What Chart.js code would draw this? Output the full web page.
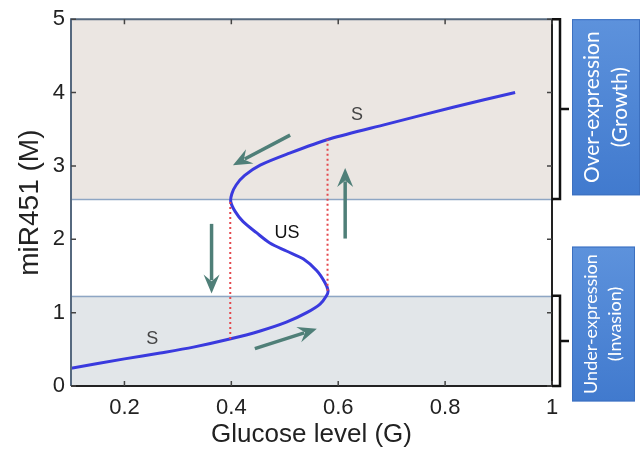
<!DOCTYPE html>
<html>
<head>
<meta charset="utf-8">
<script src="https://cdn.jsdelivr.net/npm/chart.js@4"></script>
<style>
  html, body { margin: 0; padding: 0; background: #fff; }
  #wrap { width: 642px; height: 459px; position: relative; }
</style>
</head>
<body>
<div id="wrap"><canvas id="bistable"></canvas></div>
<script>
// S-shaped steady-state curve (glucose, miR451)
const curveX = [0.10, 0.20, 0.267, 0.329, 0.397, 0.454, 0.503, 0.541, 0.566, 0.578, 0.581, 0.575, 0.560, 0.535, 0.503, 0.472, 0.447, 0.422, 0.407, 0.399, 0.401, 0.409, 0.425, 0.454, 0.504, 0.585, 0.691, 0.815, 0.931];
const curveY = [0.24, 0.37, 0.45, 0.53, 0.64, 0.75, 0.87, 1.00, 1.117, 1.23, 1.30, 1.41, 1.57, 1.73, 1.84, 1.95, 2.09, 2.24, 2.38, 2.51, 2.62, 2.74, 2.87, 3.01, 3.16, 3.37, 3.57, 3.80, 4.00];

// dotted red thresholds
const lowDropX = [0.398, 0.398];
const lowDropY = [0.64, 2.51];
const highDropX = [0.58, 0.58];
const highDropY = [1.30, 3.36];

// shaded expression bands
const bandLow = [0, 1.23];
const bandHigh = [2.55, 5];

// arrows: tail -> head
const arrowFrom = [[0.51, 3.42], [0.613, 2.01], [0.363, 2.21], [0.444, 0.51]];
const arrowTo = [[0.403, 3.01], [0.613, 2.97], [0.363, 1.26], [0.56, 0.78]];

// stability labels
const labelText = ["S", "US", "S"];
const labelX = [0.252, 0.504, 0.635];
const labelY = [0.64, 2.08, 3.70];

const xTicks = [0.2, 0.4, 0.6, 0.8, 1];
const yTicks = [0, 1, 2, 3, 4, 5];

const toPts = (xs, ys) => xs.map((x, i) => ({ x: x, y: ys[i] }));

const decorations = {
  id: "decorations",
  beforeDatasetsDraw(chart) {
    const { ctx, chartArea: a, scales: { x, y } } = chart;
    ctx.save();
    // bands
    ctx.fillStyle = "#ebe6e2";
    ctx.fillRect(a.left, y.getPixelForValue(bandHigh[1]), a.right - a.left,
      y.getPixelForValue(bandHigh[0]) - y.getPixelForValue(bandHigh[1]));
    ctx.fillStyle = "#e2e6e9";
    ctx.fillRect(a.left, y.getPixelForValue(bandLow[1]), a.right - a.left,
      y.getPixelForValue(bandLow[0]) - y.getPixelForValue(bandLow[1]));
    ctx.strokeStyle = "#8ea6c4";
    ctx.lineWidth = 1.5;
    [bandHigh[0], bandLow[1]].forEach(v => {
      const py = Math.round(y.getPixelForValue(v)) + 0.5;
      ctx.beginPath();
      ctx.moveTo(a.left, py);
      ctx.lineTo(a.right + 2, py);
      ctx.stroke();
    });
    ctx.restore();
  },
  afterDatasetsDraw(chart) {
    const { ctx, chartArea: a, scales: { x, y } } = chart;
    ctx.save();

    // arrows
    ctx.strokeStyle = "#4f7f78";
    ctx.fillStyle = "#4f7f78";
    ctx.lineWidth = 3.5;
    arrowFrom.forEach((f, i) => {
      const x0 = x.getPixelForValue(f[0]), y0 = y.getPixelForValue(f[1]);
      const x1 = x.getPixelForValue(arrowTo[i][0]), y1 = y.getPixelForValue(arrowTo[i][1]);
      const c = Math.cos(Math.atan2(y1 - y0, x1 - x0)), s = Math.sin(Math.atan2(y1 - y0, x1 - x0));
      const hl = 19, hw = 8;
      ctx.beginPath();
      ctx.moveTo(x0, y0);
      ctx.lineTo(x1 - hl * 0.7 * c, y1 - hl * 0.7 * s);
      ctx.stroke();
      ctx.beginPath();
      ctx.moveTo(x1, y1);
      ctx.lineTo(x1 - hl * c + hw * s, y1 - hl * s - hw * c);
      ctx.lineTo(x1 - hl * 0.65 * c, y1 - hl * 0.65 * s);
      ctx.lineTo(x1 - hl * c - hw * s, y1 - hl * s + hw * c);
      ctx.closePath();
      ctx.fill();
    });

    // labels
    ctx.font = "18px 'Liberation Sans', Arial, sans-serif";
    ctx.textAlign = "center";
    ctx.textBaseline = "middle";
    labelText.forEach((t, i) => {
      ctx.fillStyle = t === "US" ? "#111" : "#444";
      ctx.fillText(t, x.getPixelForValue(labelX[i]), y.getPixelForValue(labelY[i]));
    });

    // axes box
    ctx.lineWidth = 2;
    ctx.strokeStyle = "#56697f";
    ctx.beginPath();
    ctx.moveTo(a.left, a.bottom);
    ctx.lineTo(a.left, a.top);
    ctx.lineTo(a.right, a.top);
    ctx.stroke();
    ctx.strokeStyle = "#222";
    ctx.beginPath();
    ctx.moveTo(a.left, a.bottom);
    ctx.lineTo(a.right, a.bottom);
    ctx.lineTo(a.right, a.top);
    ctx.stroke();

    // inward ticks
    ctx.lineWidth = 1.5;
    ctx.strokeStyle = "#444";
    xTicks.forEach(v => {
      const px = x.getPixelForValue(v);
      ctx.beginPath();
      ctx.moveTo(px, a.bottom); ctx.lineTo(px, a.bottom - 5);
      ctx.moveTo(px, a.top); ctx.lineTo(px, a.top + 5);
      ctx.stroke();
    });
    yTicks.forEach(v => {
      const py = y.getPixelForValue(v);
      ctx.beginPath();
      ctx.moveTo(a.left, py); ctx.lineTo(a.left + 5, py);
      ctx.moveTo(a.right, py); ctx.lineTo(a.right - 5, py);
      ctx.stroke();
    });

    // brackets
    ctx.strokeStyle = "#111";
    ctx.lineWidth = 2.5;
    const bx = a.right + 8;
    [bandHigh, bandLow].forEach(b => {
      const t = y.getPixelForValue(b[1]), bt = y.getPixelForValue(b[0]);
      ctx.beginPath();
      ctx.moveTo(a.right, t); ctx.lineTo(bx, t); ctx.lineTo(bx, bt); ctx.lineTo(a.right, bt);
      ctx.moveTo(bx, (t + bt) / 2); ctx.lineTo(bx + 9, (t + bt) / 2);
      ctx.stroke();
    });

    // blue label boxes
    const boxes = [
      { top: y.getPixelForValue(5), bottom: y.getPixelForValue(2.6), x0: a.right + 20, x1: 640,
        lines: ["Over-expression", "(Growth)"], size: 21 },
      { top: y.getPixelForValue(1.9), bottom: y.getPixelForValue(-0.21), x0: a.right + 20, x1: 635,
        lines: ["Under-expression", "(Invasion)"], size: 18 }
    ];
    boxes.forEach(b => {
      const g = ctx.createLinearGradient(0, b.top, 0, b.bottom);
      g.addColorStop(0, "#5d92dc");
      g.addColorStop(1, "#417ace");
      ctx.fillStyle = g;
      ctx.fillRect(b.x0, b.top, b.x1 - b.x0, b.bottom - b.top);
      ctx.strokeStyle = "#3c70c0";
      ctx.lineWidth = 1;
      ctx.strokeRect(b.x0 + 0.5, b.top + 0.5, b.x1 - b.x0 - 1, b.bottom - b.top - 1);
      const cx = (b.x0 + b.x1) / 2, cy = (b.top + b.bottom) / 2;
      ctx.save();
      ctx.translate(cx, cy);
      ctx.rotate(-Math.PI / 2);
      ctx.fillStyle = "#fff";
      ctx.font = b.size + "px Lato, 'Open Sans', sans-serif";
      ctx.textAlign = "center";
      ctx.textBaseline = "middle";
      const gap = b.size * 1.35;
      ctx.fillText(b.lines[0], 0, -gap / 2);
      ctx.fillText(b.lines[1], 0, gap / 2);
      ctx.restore();
    });

    ctx.restore();
  }
};

new Chart(document.getElementById("bistable").getContext("2d"), {
  type: "scatter",
  data: {
    datasets: [
      {
        data: toPts(lowDropX, lowDropY),
        showLine: true,
        borderColor: "#e4474c",
        borderWidth: 2,
        borderDash: [2, 3],
        pointRadius: 0
      },
      {
        data: toPts(highDropX, highDropY),
        showLine: true,
        borderColor: "#e4474c",
        borderWidth: 2,
        borderDash: [2, 3],
        pointRadius: 0
      },
      {
        data: toPts(curveX, curveY),
        showLine: true,
        borderColor: "#3a3ade",
        borderWidth: 3,
        tension: 0.3,
        pointRadius: 0
      }
    ]
  },
  options: {
    responsive: true,
    maintainAspectRatio: false,
    animation: false,
    layout: { padding: { left: 0, top: 16, right: 90, bottom: 0 } },
    plugins: {
      legend: { display: false },
      tooltip: { enabled: false }
    },
    scales: {
      x: {
        type: "linear",
        min: 0.1,
        max: 1,
        afterBuildTicks: (s) => { s.ticks = xTicks.map(v => ({ value: v })); },
        afterFit: (s) => { s.height = 73; },
        grid: { display: false, drawTicks: false },
        border: { display: false },
        ticks: {
          color: "#222",
          padding: 9,
          callback: (v) => String(v),
          font: { family: "'Liberation Sans', Arial, sans-serif", size: 22 }
        },
        title: {
          display: true,
          text: "Glucose level (G)",
          color: "#222",
          padding: { top: 0, bottom: 9 },
          font: { family: "'Liberation Sans', Arial, sans-serif", size: 26 }
        }
      },
      y: {
        min: 0,
        max: 5,
        afterBuildTicks: (s) => { s.ticks = yTicks.map(v => ({ value: v })); },
        afterFit: (s) => { s.width = 71; },
        grid: { display: false, drawTicks: false },
        border: { display: false },
        ticks: {
          color: "#222",
          padding: 6,
          callback: (v) => String(v),
          font: { family: "'Liberation Sans', Arial, sans-serif", size: 22 }
        },
        title: {
          display: true,
          text: "miR451 (M)",
          color: "#222",
          padding: { top: 13, bottom: 0 },
          font: { family: "'Liberation Sans', Arial, sans-serif", size: 28 }
        }
      }
    }
  },
  plugins: [decorations]
});
</script>
</body>
</html>
